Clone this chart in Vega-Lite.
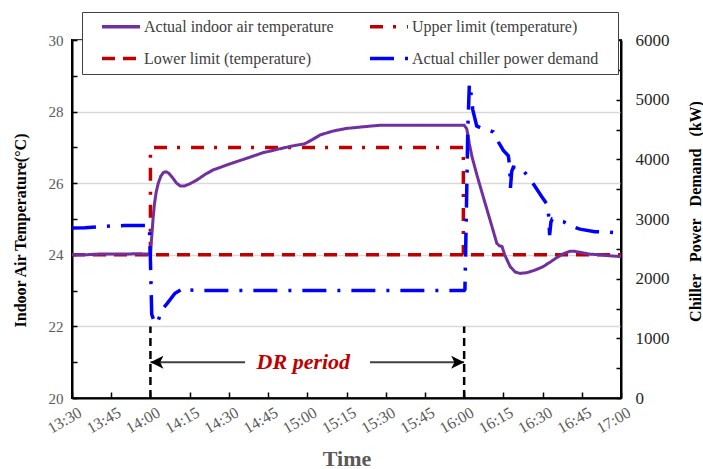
{
  "$schema": "https://vega.github.io/schema/vega-lite/v6.json",
  "width": 549,
  "height": 358,
  "autosize": "none",
  "padding": {"left": 72, "top": 40, "right": 82, "bottom": 71},
  "config": {
    "font": "Liberation Serif",
    "view": {"stroke": "black", "strokeWidth": 2},
    "axis": {"domainColor": "black", "domainWidth": 2, "tickColor": "black", "tickWidth": 1.5, "labelFont": "Liberation Serif", "titleFont": "Liberation Serif"}
  },
  "datasets": {
    "indoor": [
      {"t": 0, "v": 24.0}, {"t": 5, "v": 24.0}, {"t": 10, "v": 24.02}, {"t": 15, "v": 24.02}, {"t": 20, "v": 24.02}, {"t": 25, "v": 24.03}, {"t": 29.5, "v": 24.02},
      {"t": 30, "v": 24.05}, {"t": 30.5, "v": 24.5}, {"t": 31, "v": 25.0}, {"t": 31.5, "v": 25.4}, {"t": 32.2, "v": 25.75}, {"t": 33, "v": 26.0}, {"t": 34, "v": 26.2},
      {"t": 35, "v": 26.3}, {"t": 36, "v": 26.32}, {"t": 37, "v": 26.28}, {"t": 38.5, "v": 26.15}, {"t": 40, "v": 26.0}, {"t": 41.5, "v": 25.92}, {"t": 43, "v": 25.92},
      {"t": 45, "v": 25.98}, {"t": 48, "v": 26.1}, {"t": 51, "v": 26.25}, {"t": 54, "v": 26.37}, {"t": 60, "v": 26.53}, {"t": 67, "v": 26.7}, {"t": 73, "v": 26.85},
      {"t": 80, "v": 26.97}, {"t": 85, "v": 27.05}, {"t": 89, "v": 27.1}, {"t": 92, "v": 27.22}, {"t": 95, "v": 27.35}, {"t": 100, "v": 27.46}, {"t": 105, "v": 27.53},
      {"t": 112, "v": 27.58}, {"t": 118, "v": 27.62}, {"t": 130, "v": 27.62}, {"t": 140, "v": 27.62}, {"t": 150, "v": 27.62}, {"t": 151, "v": 27.52}, {"t": 152, "v": 27.1},
      {"t": 153, "v": 26.74}, {"t": 155, "v": 26.2}, {"t": 157.3, "v": 25.62}, {"t": 160, "v": 24.95}, {"t": 162.5, "v": 24.32}, {"t": 163.5, "v": 24.25}, {"t": 164.5, "v": 24.23},
      {"t": 165.5, "v": 24.0}, {"t": 167.6, "v": 23.67}, {"t": 169.5, "v": 23.52}, {"t": 171.4, "v": 23.48}, {"t": 174, "v": 23.5}, {"t": 177, "v": 23.57}, {"t": 180, "v": 23.66},
      {"t": 183, "v": 23.8}, {"t": 185.4, "v": 23.92}, {"t": 188, "v": 24.03}, {"t": 190.5, "v": 24.1}, {"t": 192, "v": 24.1}, {"t": 195, "v": 24.06}, {"t": 198, "v": 24.02},
      {"t": 202, "v": 24.0}, {"t": 206, "v": 23.97}, {"t": 210, "v": 23.95}
    ],
    "upper": [{"t": 30, "v": 24}, {"t": 30, "v": 27}, {"t": 149.7, "v": 27}, {"t": 149.7, "v": 24}],
    "lower": [{"t": 0, "v": 24}, {"t": 210, "v": 24}],
    "chiller": [
      {"t": 0, "v": 2850}, {"t": 5, "v": 2855}, {"t": 10, "v": 2870}, {"t": 15, "v": 2885}, {"t": 20, "v": 2890}, {"t": 25, "v": 2890}, {"t": 29.6, "v": 2890},
      {"t": 30, "v": 2300}, {"t": 30.5, "v": 1400}, {"t": 31.5, "v": 1280}, {"t": 32.2, "v": 1240}, {"t": 33, "v": 1300}, {"t": 34.3, "v": 1475}, {"t": 36.5, "v": 1590},
      {"t": 39.4, "v": 1755}, {"t": 43, "v": 1850}, {"t": 45, "v": 1810}, {"t": 50, "v": 1800}, {"t": 100, "v": 1800}, {"t": 150, "v": 1800}, {"t": 150.3, "v": 1820},
      {"t": 150.8, "v": 3000}, {"t": 151.4, "v": 4500}, {"t": 152, "v": 5270}, {"t": 152.5, "v": 5150}, {"t": 153.3, "v": 4830}, {"t": 154.8, "v": 4560}, {"t": 156.7, "v": 4520},
      {"t": 159, "v": 4490}, {"t": 161.2, "v": 4460}, {"t": 163.1, "v": 4290}, {"t": 165, "v": 4150}, {"t": 166.9, "v": 4060}, {"t": 167.4, "v": 3900}, {"t": 167.7, "v": 3520},
      {"t": 168.2, "v": 3800}, {"t": 168.8, "v": 3870}, {"t": 172, "v": 3850}, {"t": 176, "v": 3620}, {"t": 179.7, "v": 3374}, {"t": 182.0, "v": 3230}, {"t": 182.4, "v": 3000},
      {"t": 182.7, "v": 2730}, {"t": 183.2, "v": 2950}, {"t": 183.7, "v": 3000}, {"t": 188, "v": 2955}, {"t": 191, "v": 2880}, {"t": 194.3, "v": 2830}, {"t": 200, "v": 2787},
      {"t": 205, "v": 2780}, {"t": 210, "v": 2760}
    ],
    "drlines": [{"t": 30, "v": 20, "v2": 22.0}, {"t": 150, "v": 20, "v2": 22.0}],
    "arrows": [{"t": 30, "t2": 66.2, "v": 21.0}, {"t": 114, "t2": 150, "v": 21.0}],
    "heads": [{"t": 30, "v": 21.0, "dir": "left"}, {"t": 150, "v": 21.0, "dir": "right"}],
    "label": [{"t": 88.5, "v": 21.0, "text": "DR period"}]
  },
  "encoding": {
    "x": {"field": "t", "type": "quantitative", "scale": {"domain": [0, 210], "nice": false, "zero": false},
      "axis": {"values": [0, 15, 30, 45, 60, 75, 90, 105, 120, 135, 150, 165, 180, 195, 210],
        "labelExpr": "floor((datum.value+810)/60) + ':' + ((((datum.value+810)%60) < 10) ? '0' : '') + ((datum.value+810)%60)",
        "labelAngle": -30, "labelFontSize": 16, "labelColor": "#595959", "labelPadding": 12, "labelOffset": 4, "labelOverlap": false, "labelFlush": false, "tickSize": -6, "grid": false,
        "title": "Time", "titleFontSize": 22, "titleFontWeight": "bold", "titleColor": "#595959", "titleY": 60, "titleBaseline": "middle"}}
  },
  "layer": [
    {
      "encoding": {
        "y": {"field": "v", "type": "quantitative", "scale": {"domain": [20, 30], "nice": false, "zero": false},
          "axis": {"values": [20, 21, 22, 23, 24, 25, 26, 27, 28, 29, 30],
            "labelExpr": "datum.value % 2 == 0 ? datum.value : ''",
            "grid": true, "gridColor": "#d9d9d9", "gridWidth": 1.5,
            "gridOpacity": {"condition": {"test": "datum.value % 2 == 1", "value": 0}, "value": 1},
            "tickSize": -5, "labelFontSize": 15, "labelColor": "#595959", "labelPadding": 14,
            "title": "Indoor Air Temperature(°C)", "titleFontSize": 16, "titleFontWeight": "bold", "titleColor": "black",
            "titleAngle": -90, "titleX": -52, "titleY": 190, "titleAlign": "center", "titleBaseline": "middle"}}
      },
      "layer": [
        {
          "data": {"name": "lower"},
          "mark": {"type": "line", "strokeWidth": 3.5, "strokeCap": "butt"},
          "encoding": {
            "color": {"datum": "Lower limit (temperature)", "type": "nominal",
              "scale": {"domain": ["Actual indoor air temperature", "Lower limit (temperature)", "Upper limit (temperature)", "Actual chiller power demand"],
                "range": ["#7030A0", "#C00000", "#C00000", "#0000FF"]},
              "legend": {"orient": "none", "legendX": 10, "legendY": -28, "columns": 2, "title": null, "symbolType": "stroke", "symbolSize": 1444,
                "symbolStrokeWidth": 3.5, "labelFontSize": 16, "labelColor": "#404040", "labelFont": "Liberation Serif", "labelLimit": 400, "padding": 7,
                "labelExpr": "datum.label + '\u2800'", "clipHeight": 15,
                "strokeColor": "#404040", "fillColor": "white", "columnPadding": 11, "rowPadding": 15, "symbolOffset": 11, "labelOffset": 2}},
            "strokeDash": {"datum": "Lower limit (temperature)", "type": "nominal",
              "scale": {"domain": ["Actual indoor air temperature", "Lower limit (temperature)", "Upper limit (temperature)", "Actual chiller power demand"],
                "range": [[1, 0], [13, 8], [13, 10, 3, 11], [24, 11, 3, 11]]},
              "legend": {"orient": "none", "legendX": 10, "legendY": -28, "columns": 2, "title": null, "symbolType": "stroke", "symbolSize": 1444,
                "symbolStrokeWidth": 3.5, "labelFontSize": 16, "labelColor": "#404040", "labelFont": "Liberation Serif", "labelLimit": 400, "padding": 7,
                "labelExpr": "datum.label + '\u2800'", "clipHeight": 15,
                "strokeColor": "#404040", "fillColor": "white", "columnPadding": 11, "rowPadding": 15, "symbolOffset": 11, "labelOffset": 2}}
          }
        },
        {
          "data": {"name": "upper"},
          "mark": {"type": "line", "strokeWidth": 3.5, "strokeCap": "butt"},
          "encoding": {
            "order": {"value": null},
            "color": {"datum": "Upper limit (temperature)", "type": "nominal"},
            "strokeDash": {"datum": "Upper limit (temperature)", "type": "nominal"}
          }
        },
        {
          "data": {"name": "indoor"},
          "mark": {"type": "line", "strokeWidth": 3},
          "encoding": {
            "color": {"datum": "Actual indoor air temperature", "type": "nominal"},
            "strokeDash": {"datum": "Actual indoor air temperature", "type": "nominal"}
          }
        },
        {
          "data": {"name": "drlines"},
          "mark": {"type": "rule", "color": "black", "strokeWidth": 2.5, "strokeDash": [8, 5]},
          "encoding": {
            "y2": {"field": "v2"}
          }
        },
        {
          "data": {"name": "arrows"},
          "mark": {"type": "rule", "color": "#404040", "strokeWidth": 2},
          "encoding": {
            "x2": {"field": "t2"}
          }
        },
        {
          "data": {"name": "heads"},
          "mark": {"type": "point", "filled": true, "color": "black", "size": 169, "opacity": 1},
          "encoding": {
            "shape": {"field": "dir", "type": "nominal", "legend": null,
              "scale": {"domain": ["left", "right"], "range": ["M0,0L2,-1L1.5,0L2,1Z", "M0,0L-2,-1L-1.5,0L-2,1Z"]}}
          }
        },
        {
          "data": {"name": "label"},
          "mark": {"type": "text", "color": "#C00000", "fontSize": 22, "fontWeight": "bold", "fontStyle": "italic", "font": "Liberation Serif"},
          "encoding": {
            "text": {"field": "text"}
          }
        }
      ]
    },
    {
      "data": {"name": "chiller"},
      "mark": {"type": "line", "strokeWidth": 3.5, "strokeCap": "butt"},
      "encoding": {
        "y": {"field": "v", "type": "quantitative", "scale": {"domain": [0, 6000], "nice": false},
          "axis": {"orient": "right", "values": [0, 500, 1000, 1500, 2000, 2500, 3000, 3500, 4000, 4500, 5000, 5500, 6000],
            "labelExpr": "datum.value % 1000 == 0 ? datum.value : ''", "grid": false, "tickSize": -5,
            "labelFontSize": 17, "labelColor": "#262626", "labelPadding": 19,
            "title": "Chiller\u00a0\u00a0 Power\u00a0\u00a0 Demand\u00a0\u00a0 (kW)", "titleAngle": -90, "titleFontSize": 16, "titleFontWeight": "bold", "titleColor": "black",
            "titleX": 74, "titleY": 171, "titleAlign": "center", "titleBaseline": "middle"}},
        "order": {"value": null},
        "color": {"datum": "Actual chiller power demand", "type": "nominal"},
        "strokeDash": {"datum": "Actual chiller power demand", "type": "nominal"}
      }
    }
  ],
  "resolve": {"scale": {"y": "independent"}}
}
